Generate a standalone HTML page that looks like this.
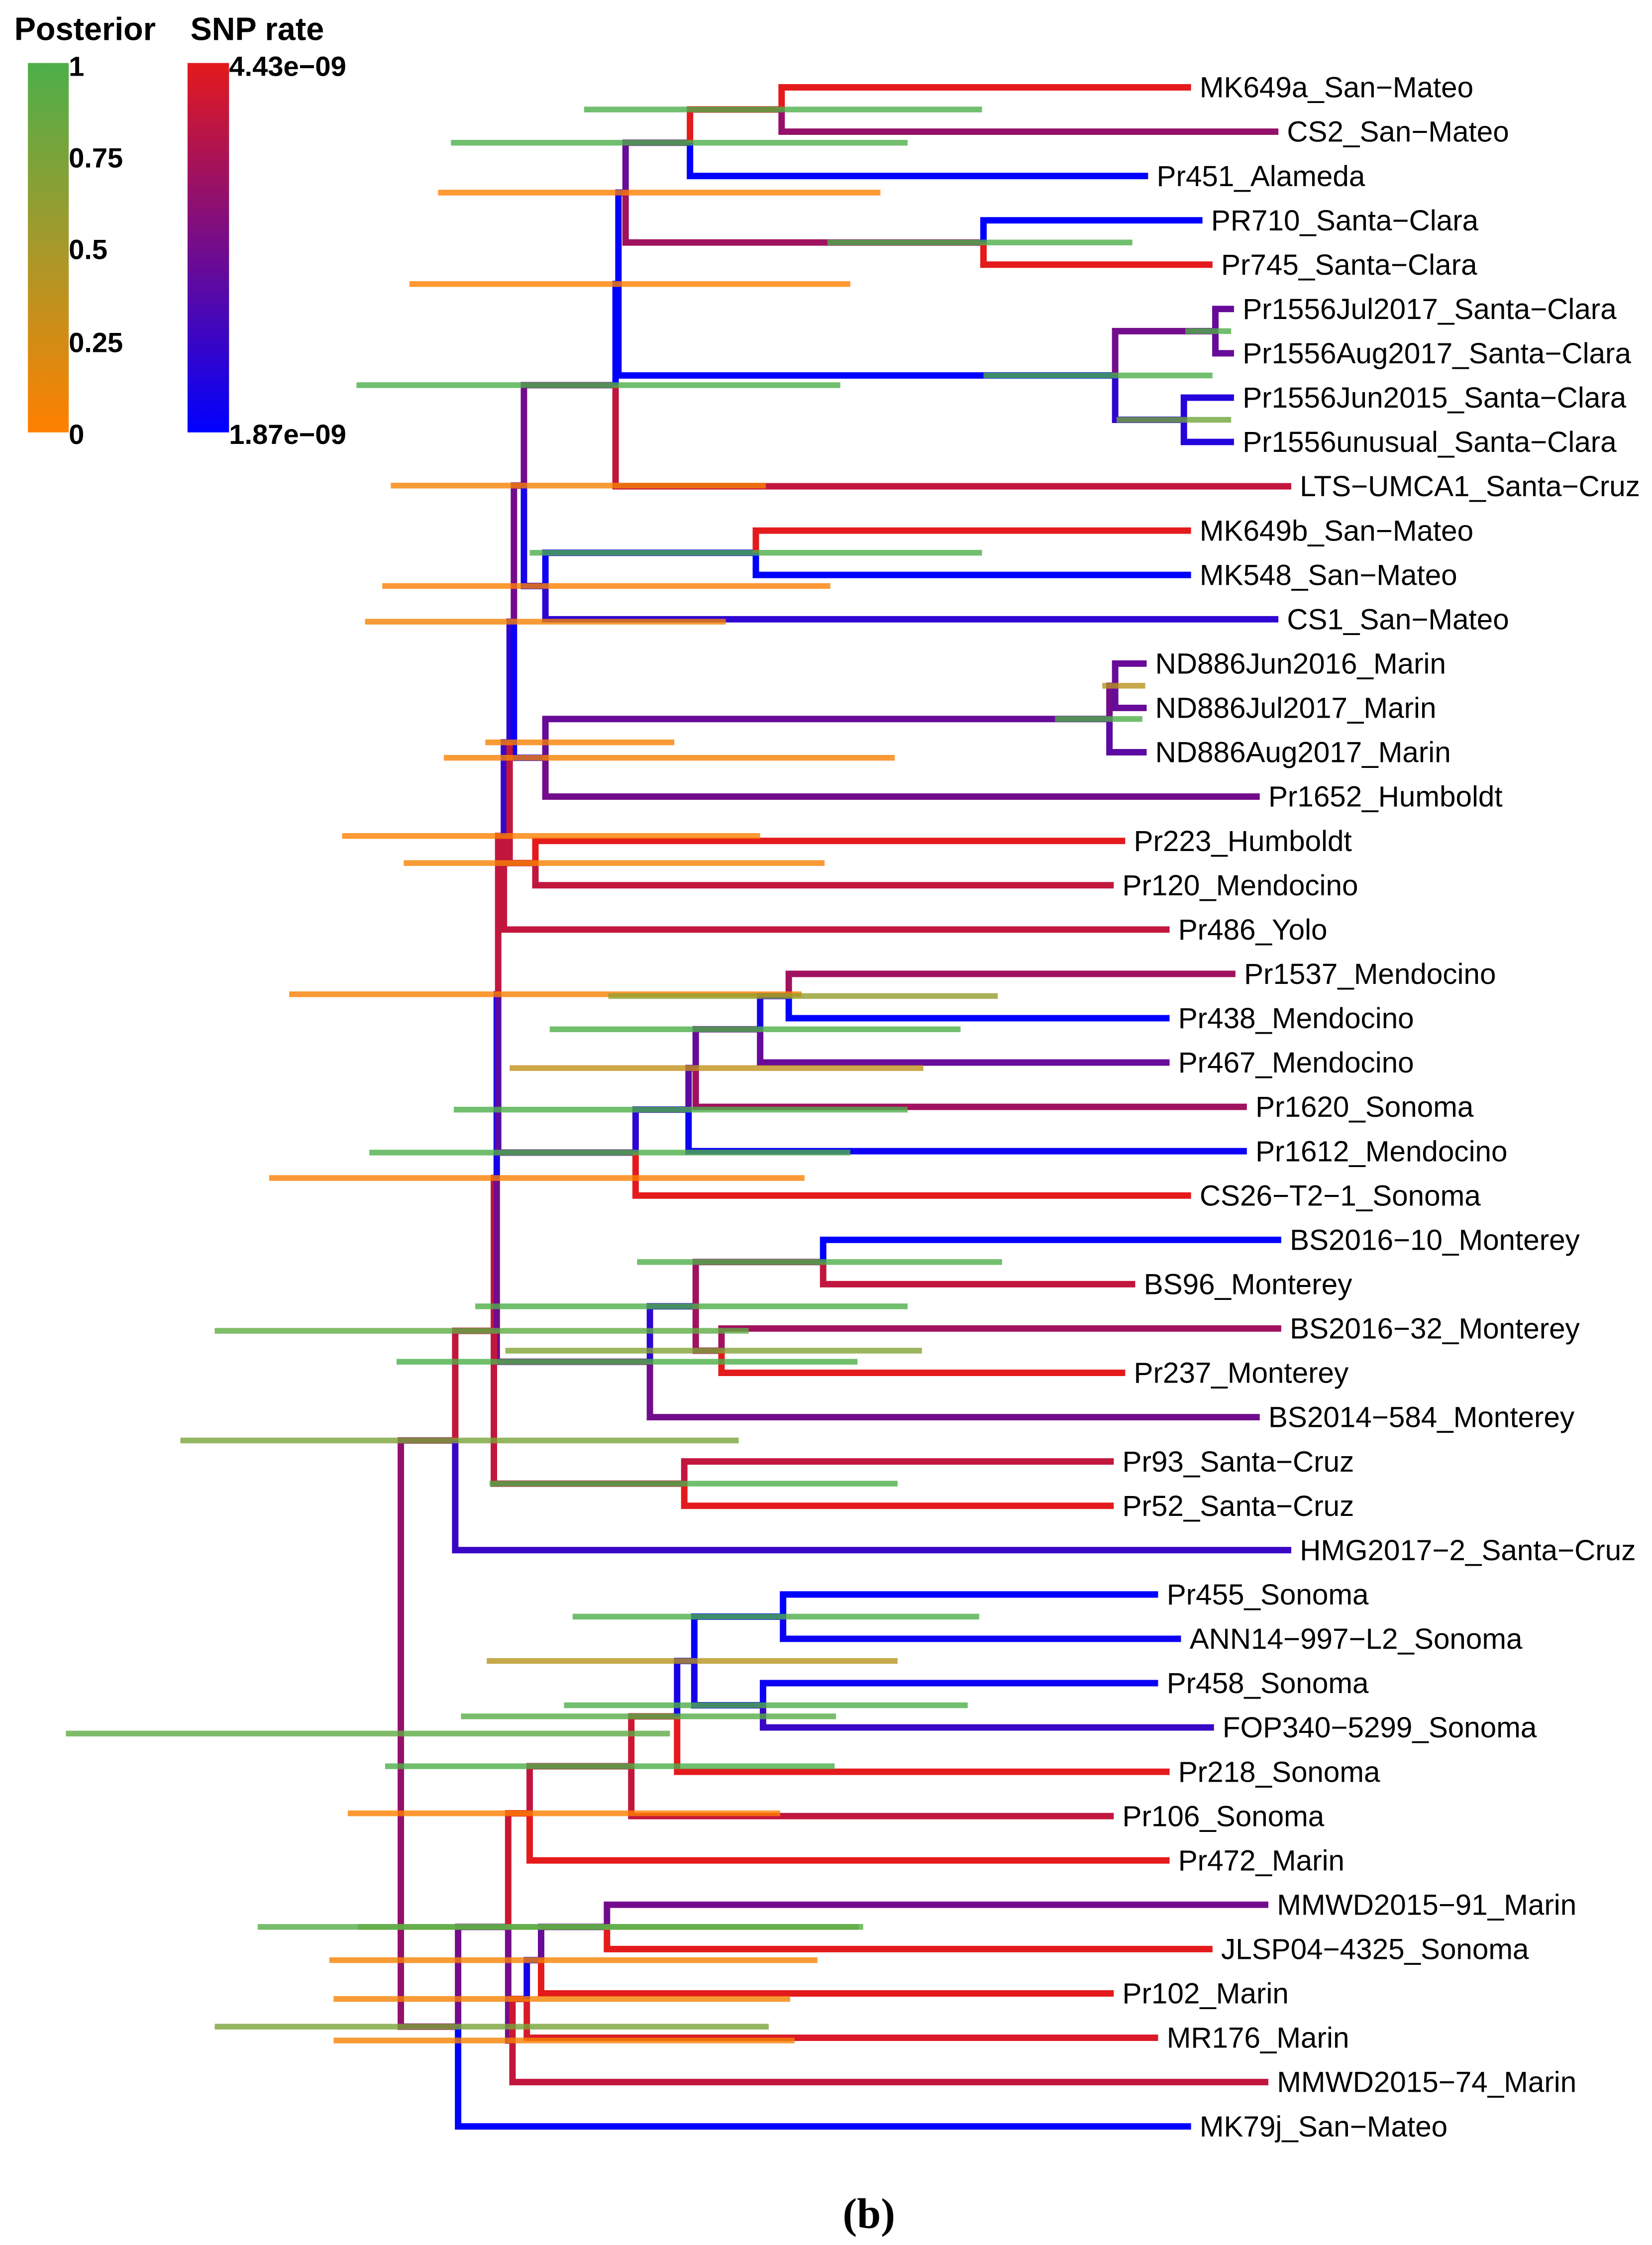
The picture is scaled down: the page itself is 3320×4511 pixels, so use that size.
<!DOCTYPE html>
<html><head><meta charset="utf-8"><style>
html,body{margin:0;padding:0;background:#fff;}
svg{display:block;}
text{font-family:"Liberation Sans",sans-serif;}
</style></head><body>
<svg id="chart" width="3320" height="4511" viewBox="0 0 1154 1568" preserveAspectRatio="none" xmlns="http://www.w3.org/2000/svg">
<defs>
<linearGradient id="postGrad" x1="0" y1="1" x2="0" y2="0">
<stop offset="0" stop-color="#ff8000"/><stop offset="0.5" stop-color="#a6992a"/><stop offset="1" stop-color="#4daf4a"/>
</linearGradient>
<linearGradient id="rateGrad" x1="0" y1="1" x2="0" y2="0">
<stop offset="0" stop-color="#0000ff"/><stop offset="0.5" stop-color="#730c8c"/><stop offset="1" stop-color="#e41a1c"/>
</linearGradient>
</defs>
<g>
<text x="10" y="28" font-size="22.5" font-weight="bold">Posterior</text>
<rect x="19.5" y="44" width="28.5" height="258" fill="url(#postGrad)"/>
<text x="48" y="53" font-size="19.5" font-weight="bold">1</text>
<text x="48" y="117" font-size="19.5" font-weight="bold">0.75</text>
<text x="48" y="181" font-size="19.5" font-weight="bold">0.5</text>
<text x="48" y="246" font-size="19.5" font-weight="bold">0.25</text>
<text x="48" y="310" font-size="19.5" font-weight="bold">0</text>
</g>
<g>
<text x="133" y="28" font-size="22.5" font-weight="bold">SNP rate</text>
<rect x="131" y="44" width="29" height="258" fill="url(#rateGrad)"/>
<text x="160" y="53" font-size="19.5" font-weight="bold">4.43e−09</text>
<text x="160" y="310" font-size="19.5" font-weight="bold">1.87e−09</text>
</g>
<g id="branches"></g>
<g id="bars"></g>
<g id="labels"></g>
<text x="607" y="1556" font-size="30" font-weight="bold" text-anchor="middle" style="font-family:'Liberation Serif',serif">(b)</text>
</svg>
<script>
const tipLabels=["MK649a_San−Mateo","CS2_San−Mateo","Pr451_Alameda","PR710_Santa−Clara","Pr745_Santa−Clara","Pr1556Jul2017_Santa−Clara","Pr1556Aug2017_Santa−Clara","Pr1556Jun2015_Santa−Clara","Pr1556unusual_Santa−Clara","LTS−UMCA1_Santa−Cruz","MK649b_San−Mateo","MK548_San−Mateo","CS1_San−Mateo","ND886Jun2016_Marin","ND886Jul2017_Marin","ND886Aug2017_Marin","Pr1652_Humboldt","Pr223_Humboldt","Pr120_Mendocino","Pr486_Yolo","Pr1537_Mendocino","Pr438_Mendocino","Pr467_Mendocino","Pr1620_Sonoma","Pr1612_Mendocino","CS26−T2−1_Sonoma","BS2016−10_Monterey","BS96_Monterey","BS2016−32_Monterey","Pr237_Monterey","BS2014−584_Monterey","Pr93_Santa−Cruz","Pr52_Santa−Cruz","HMG2017−2_Santa−Cruz","Pr455_Sonoma","ANN14−997−L2_Sonoma","Pr458_Sonoma","FOP340−5299_Sonoma","Pr218_Sonoma","Pr106_Sonoma","Pr472_Marin","MMWD2015−91_Marin","JLSP04−4325_Sonoma","Pr102_Marin","MR176_Marin","MMWD2015−74_Marin","MK79j_San−Mateo"];
const tipParent=["n546","n546","n482","n687","n687","n849a","n849a","n827","n827","n430","n528","n528","n381","n786","n786","n775","n381b","n374","n374","n352","n551","n551","n531","n486","n481","n444","n575","n575","n504","n504","n454","n478","n478","n318","n547","n547","n533","n533","n473","n441","n370","n424","n424","n378","n368","n358a","n320"];
const tipTime=[55.2,61.3,52.2,56.0,56.7,58.2,58.2,58.2,58.2,62.2,55.2,55.2,61.3,52.1,52.1,52.1,60.0,50.6,49.8,53.7,58.3,53.7,53.7,59.1,59.1,55.2,61.5,51.3,61.5,50.6,60.0,49.8,49.8,62.2,52.9,54.5,52.9,56.8,53.7,49.8,53.7,60.6,56.7,49.8,52.9,60.6,55.2];
const tipRate=[1,0.65,0,0,1,0.45,0.45,0.15,0.15,0.85,1,0,0.2,0.45,0.45,0.4,0.5,1,0.85,0.85,0.7,0,0.45,0.7,0.05,1,0,0.85,0.7,1,0.5,0.85,1,0.25,0,0.05,0.05,0.25,1,0.85,1,0.5,1,1,0.95,0.85,0];
const nodeIds=["root","n320","n318","Y","Z","X","n352","n356","n359","n366","n430","n432","n437","n482","n546","n687","n779","n849a","n827","n381","n528","n381b","n775","n786","n374","n444","n481","n486","n531","n551","n454","n486b","n575","n504","n478","n358b","n370","n441","n473","n485","n547","n533","n358a","n368","n378","n424"];
const nodeParent=[null,"root","root","n318","Y","Z","X","n352","n356","n359","n366","n430","n432","n437","n482","n437","n432","n779","n779","n366","n381","n359","n381b","n775","n356","X","n444","n481","n486","n531","Z","n454","n486b","n486b","Y","n320","n358b","n370","n441","n473","n485","n485","n358b","n358a","n368","n378"];
const nodeTime=[0,4.0,3.8,6.5,6.7,6.8,7.2,7.6,7.9,8.6,15.0,15.2,15.7,20.2,26.6,40.7,49.9,56.9,54.7,10.1,24.8,10.1,49.5,49.9,9.4,16.4,20.1,20.6,25.1,27.1,17.4,20.6,29.5,22.4,19.8,7.5,9.0,16.1,19.3,20.5,26.7,25.3,7.8,8.8,9.8,14.4];
const nodeRate=[0,0.65,0.65,0.85,0.85,0.1,0.85,0.25,0.2,0.5,0.5,0,0,0.45,1,0.7,0,0.5,0.2,0.1,0.05,0.05,0.45,0.5,0.85,0.4,0.2,0.4,0.45,0.1,0.5,0.2,0.7,0.7,0.85,0.5,0.9,0.85,0.9,0.1,0,0.1,0.5,0.9,0.1,0.45];
const hpdLow=[-23.4,-13.0,-15.4,-13.0,-9.2,-7.8,-4.1,5.9,-2.5,-0.7,-3.1,0.6,2.6,3.5,12.8,29.8,40.7,54.8,50.0,-1.3,9.0,3.0,45.7,49.0,0.2,-2.2,3.7,7.6,10.4,14.5,-0.3,5.2,16.5,7.3,6.2,-10.0,-3.7,-1.1,4.2,6.0,12.0,11.4,-4.7,-4.7,-5.0,-3.0];
const hpdHigh=[18.8,25.7,23.6,24.3,28.2,28.0,25.1,19.1,22.7,25.5,30.7,31.4,33.5,35.4,40.6,51.1,56.7,58.0,58.0,30.0,40.6,34.5,51.8,52.0,29.6,31.4,35.4,36.5,39.1,41.7,31.9,35.4,42.0,36.4,34.7,32.3,26.5,30.3,30.4,34.7,40.4,39.6,27.5,27.2,29.1,32.0];
const posterior=[0.9,0.75,0.75,0.9,0.02,0.02,0.02,0.05,0.05,0.05,1,0,0,1,1,1,1,1,0.8,0.02,1,0.05,1,0.4,0.05,1,1,0.35,1,0.6,1,1,1,0.7,1,0.95,0,1,0.95,0.4,1,1,0.05,0.05,0.05,0.9];

const NS="http://www.w3.org/2000/svg";
function xScale(t){return 280+t*10;}
function yScale(i){return 61+i*30.96;}
function lerp(a,b,f){return a.map((v,k)=>Math.round(v+(b[k]-v)*f));}
function tri(c0,c1,c2,v){const c=v<0.5?lerp(c0,c1,v*2):lerp(c1,c2,(v-0.5)*2);return "rgb("+c.join(",")+")";}
function rateColor(v){return tri([0,0,255],[115,12,140],[228,26,28],v);}
function postColor(v){return tri([255,127,0],[166,153,38],[77,175,74],v);}

const nodes={};
nodeIds.forEach((id,i)=>{nodes[id]={id:id,parent:nodeParent[i],x:xScale(nodeTime[i]),rate:nodeRate[i],kids:[],idx:i};});
const tips=tipLabels.map((l,i)=>({label:l,parent:tipParent[i],x:xScale(tipTime[i]),y:yScale(i),rate:tipRate[i],tip:true,idx:i}));
tips.forEach(t=>nodes[t.parent].kids.push(t));
nodeIds.forEach(id=>{const n=nodes[id];if(n.parent)nodes[n.parent].kids.push(n);});
function setY(n){if(n.tip)return n.y;const ys=n.kids.map(setY);n.y=ys.reduce((a,b)=>a+b,0)/ys.length;return n.y;}
setY(nodes.root);

const gB=document.getElementById('branches');
function drawEdge(child){
  const p=nodes[child.parent];
  const path=document.createElementNS(NS,'path');
  path.setAttribute('d','M'+p.x+' '+p.y+' V'+child.y+' H'+child.x);
  path.setAttribute('fill','none');
  path.setAttribute('stroke',rateColor(child.rate));
  path.setAttribute('stroke-width','4.5');
  path.setAttribute('stroke-linejoin','miter');
  
  
  gB.appendChild(path);
}
nodeIds.forEach(id=>{if(nodes[id].parent)drawEdge(nodes[id]);});
tips.forEach(drawEdge);

const gH=document.getElementById('bars');
nodeIds.forEach((id,i)=>{
  const n=nodes[id];
  const r=document.createElementNS(NS,'rect');
  const x0=xScale(hpdLow[i]),x1=xScale(hpdHigh[i]);
  r.setAttribute('x',x0);r.setAttribute('y',n.y-2);
  r.setAttribute('width',x1-x0);r.setAttribute('height',4);
  r.setAttribute('fill',postColor(posterior[i]));
  r.setAttribute('opacity','0.8');
  
  
  gH.appendChild(r);
});

const gL=document.getElementById('labels');
tips.forEach(t=>{
  const tx=document.createElementNS(NS,'text');
  tx.setAttribute('x',t.x+6);tx.setAttribute('y',t.y+7);
  tx.setAttribute('font-size','20.3');
  tx.textContent=t.label;
  
  
  gL.appendChild(tx);
});
</script>
</body></html>
